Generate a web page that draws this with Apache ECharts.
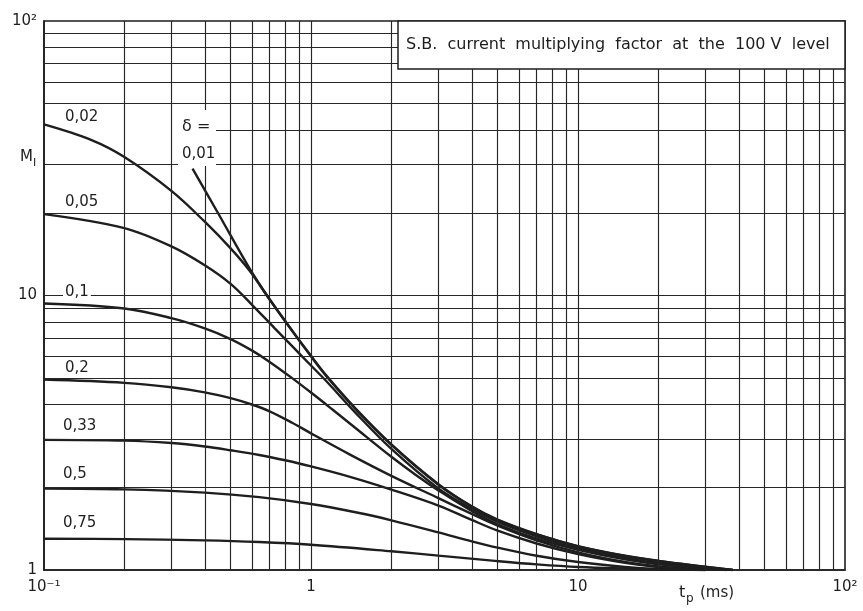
<!DOCTYPE html>
<html><head><meta charset="utf-8">
<script src="https://cdn.jsdelivr.net/npm/echarts@6/dist/echarts.min.js"></script>
<style>html,body{margin:0;padding:0;background:#fff}#c{width:863px;height:611px}</style>
</head><body><div id="c"></div>
<script>
// ---- axis ticks / labels ----
const xTickValues = [0.1, 1, 10, 100];
const xTickLabels = ['10⁻¹', '1', '10', '10²'];
const yTickValues = [1, 10, 100];
const yTickLabels = ['1', '10', '10²'];
// log grid lines
const xGridValues = [0.2,0.3,0.4,0.5,0.6,0.7,0.8,0.9,1,2,3,4,5,6,7,8,9,10,20,30,40,50,60,70,80,90];
const yGridValues = [2,3,4,5,6,7,8,9,10,20,30,50,60,70,80,90];
const yGridPartial = [40];   // line interrupted at the left (under labels)
const yGridPartialStart = [0.42];

// ---- curves: duty factor delta, t_p (ms) and M_I ----
const deltaLabels = ['0,01','0,02','0,05','0,1','0,2','0,33','0,5','0,75'];
const tp001 = [0.36, 0.45, 0.59, 0.70, 0.86, 1.0, 1.14, 1.46, 2, 3, 4, 5, 7, 10, 15, 20, 30, 38];
const M001  = [29, 19.85, 12.5, 9.69, 7.34, 6.03, 5.12, 3.90, 2.87, 2.055, 1.705, 1.525, 1.351, 1.222, 1.127, 1.08, 1.028, 1.0];
const tp002 = [0.1, 0.15, 0.2, 0.3, 0.4, 0.5, 0.59, 0.70, 0.86, 1.0, 1.14, 1.46, 2, 3, 4, 5, 7, 10, 15, 20, 30, 38];
const M002  = [42, 36.9, 31.95, 24.05, 18.57, 14.85, 12.28, 9.66, 7.31, 6.0, 5.09, 3.88, 2.855, 2.045, 1.70, 1.52, 1.347, 1.22, 1.125, 1.078, 1.027, 1.0];
const tp005 = [0.1, 0.2, 0.3, 0.4, 0.5, 0.6, 0.73, 0.85, 1.0, 1.14, 1.46, 2, 3, 4, 5, 7, 10, 15, 20, 30, 38];
const M005  = [19.8, 17.6, 15.09, 12.88, 11.02, 9.27, 7.61, 6.54, 5.56, 4.88, 3.76, 2.76, 1.98, 1.667, 1.497, 1.327, 1.20, 1.107, 1.06, 1.018, 1.0];
const tp01  = [0.1, 0.2, 0.3, 0.4, 0.5, 0.6, 0.7, 0.85, 1.0, 1.2, 1.44, 2, 2.5, 3, 4, 5, 7, 10, 15, 20, 30, 36];
const M01   = [9.35, 8.97, 8.27, 7.59, 6.94, 6.31, 5.73, 5.0, 4.43, 3.85, 3.34, 2.585, 2.20, 1.95, 1.64, 1.468, 1.30, 1.185, 1.093, 1.05, 1.017, 1.0];
const tp02  = [0.1, 0.2, 0.3, 0.4, 0.5, 0.6, 0.7, 0.85, 1.0, 1.4, 2, 3, 4, 5, 7, 10, 15, 20, 30, 36];
const M02   = [4.94, 4.806, 4.634, 4.439, 4.226, 4.008, 3.786, 3.44, 3.146, 2.633, 2.203, 1.827, 1.601, 1.451, 1.282, 1.16, 1.07, 1.03, 1.005, 1.0];
const tp033 = [0.1, 0.2, 0.3, 0.4, 0.5, 0.64, 0.8, 1.0, 1.4, 2, 3, 4, 5, 7, 10, 15, 20, 30];
const M033  = [2.98, 2.96, 2.90, 2.818, 2.73, 2.625, 2.51, 2.385, 2.185, 1.963, 1.717, 1.522, 1.391, 1.249, 1.143, 1.062, 1.026, 1.0];
const tp05  = [0.1, 0.2, 0.4, 0.64, 1.0, 1.5, 2, 3, 4, 5, 7, 10, 15, 20, 30];
const M05   = [1.98, 1.966, 1.913, 1.842, 1.739, 1.616, 1.517, 1.371, 1.272, 1.206, 1.127, 1.069, 1.026, 1.009, 1.0];
const tp075 = [0.1, 0.2, 0.4, 0.64, 1.0, 2, 3, 5, 7, 10, 20, 30];
const M075  = [1.30, 1.296, 1.282, 1.264, 1.236, 1.17, 1.128, 1.077, 1.048, 1.026, 1.005, 1.0];

const curves = [[tp001,M001],[tp002,M002],[tp005,M005],[tp01,M01],[tp02,M02],[tp033,M033],[tp05,M05],[tp075,M075]];
const zip = (xs, ys) => xs.map((x, i) => [x, ys[i]]);

function fmt(values, labels) {
  return function (v) {
    for (let i = 0; i < values.length; i++) {
      if (Math.abs(Math.log10(v) - Math.log10(values[i])) < 1e-6) return labels[i];
    }
    return '';
  };
}

const INK = '#1e1e1e';
const FONT = 'DejaVu Sans';

const gridLineData = []
  .concat(xGridValues.map(v => ({ xAxis: v })))
  .concat(yGridValues.map(v => ({ yAxis: v })))
  .concat(yGridPartial.map((v, i) => [{ coord: [yGridPartialStart[i], v] }, { coord: [100, v] }]));

const series = [{
  type: 'line', data: [], silent: true, z: 1,
  markLine: {
    silent: true, symbol: ['none', 'none'], animation: false,
    label: { show: false },
    lineStyle: { color: '#262626', width: 1.15, type: 'solid' },
    emphasis: { disabled: true },
    data: gridLineData
  }
}];
curves.forEach((c, i) => {
  series.push({
    name: deltaLabels[i], type: 'line', data: zip(c[0], c[1]),
    symbol: 'none', showSymbol: false, smooth: 0.35, silent: true, z: 3,
    lineStyle: { color: INK, width: 2.4 }
  });
});

const lbl = (text, x, y) => ({
  type: 'text', x: x, y: y, z: 100,
  style: { text: text, fill: INK, font: '15px "DejaVu Sans"', textVerticalAlign: 'middle',
           verticalAlign: 'middle', backgroundColor: '#fff', padding: [1, 2] }
});

const chart = echarts.init(document.getElementById('c'), null, { renderer: 'canvas' });
chart.setOption({
  animation: false,
  backgroundColor: '#fff',
  grid: { left: 44, right: 18, top: 21, bottom: 41, show: true, borderColor: INK, borderWidth: 1.6, backgroundColor: 'transparent' },
  xAxis: {
    type: 'log', logBase: 10, min: 0.1, max: 100,
    axisLine: { show: true, lineStyle: { color: INK, width: 1.6 } },
    axisTick: { show: false }, splitLine: { show: false }, minorTick: { show: false },
    axisLabel: { formatter: fmt(xTickValues, xTickLabels), margin: 10, color: INK, fontSize: 15, fontFamily: FONT, showMinLabel: true, showMaxLabel: true }
  },
  yAxis: {
    type: 'log', logBase: 10, min: 1, max: 100,
    axisLine: { show: true, lineStyle: { color: INK, width: 1.6 } },
    axisTick: { show: false }, splitLine: { show: false },
    axisLabel: { formatter: fmt(yTickValues, yTickLabels), margin: 7, color: INK, fontSize: 15, fontFamily: FONT, showMinLabel: true, showMaxLabel: true }
  },
  series: series,
  graphic: [
    { type: 'rect', shape: { x: 398, y: 21, width: 447, height: 48 }, z: 90,
      style: { fill: '#fff', stroke: INK, lineWidth: 1.5 } },
    { type: 'text', x: 406, y: 45, z: 100,
      style: { text: 'S.B.  current  multiplying  factor  at  the  100 V  level', fill: INK, font: '16px "DejaVu Sans"', verticalAlign: 'middle', textVerticalAlign: 'middle' } },
    { type: 'rect', shape: { x: 178, y: 110, width: 38, height: 56 }, z: 90, style: { fill: '#fff', stroke: null } },
    { type: 'text', x: 182, y: 127, z: 100, style: { text: 'δ =', fill: INK, font: '16px "DejaVu Sans"', verticalAlign: 'middle', textVerticalAlign: 'middle' } },
    { type: 'text', x: 182, y: 154, z: 100, style: { text: deltaLabels[0], fill: INK, font: '15px "DejaVu Sans"', verticalAlign: 'middle', textVerticalAlign: 'middle' } },
    lbl(deltaLabels[1], 63, 117),
    lbl(deltaLabels[2], 63, 202),
    lbl(deltaLabels[3], 63, 292),
    lbl(deltaLabels[4], 63, 368),
    lbl(deltaLabels[5], 61, 426),
    lbl(deltaLabels[6], 61, 474),
    lbl(deltaLabels[7], 61, 523),
    { type: 'text', x: 20, y: 157, z: 100, style: { text: 'M', fill: INK, font: '15px "DejaVu Sans"', verticalAlign: 'middle', textVerticalAlign: 'middle' } },
    { type: 'text', x: 33, y: 163, z: 100, style: { text: 'I', fill: INK, font: '11px "DejaVu Sans"', verticalAlign: 'middle', textVerticalAlign: 'middle' } },
    { type: 'text', x: 679, y: 593, z: 100, style: { text: 't', fill: INK, font: '16px "DejaVu Sans"', verticalAlign: 'middle', textVerticalAlign: 'middle' } },
    { type: 'text', x: 686, y: 599, z: 100, style: { text: 'p', fill: INK, font: '12px "DejaVu Sans"', verticalAlign: 'middle', textVerticalAlign: 'middle' } },
    { type: 'text', x: 700, y: 593, z: 100, style: { text: '(ms)', fill: INK, font: '15px "DejaVu Sans"', verticalAlign: 'middle', textVerticalAlign: 'middle' } }
  ]
});
</script>
</body></html>
